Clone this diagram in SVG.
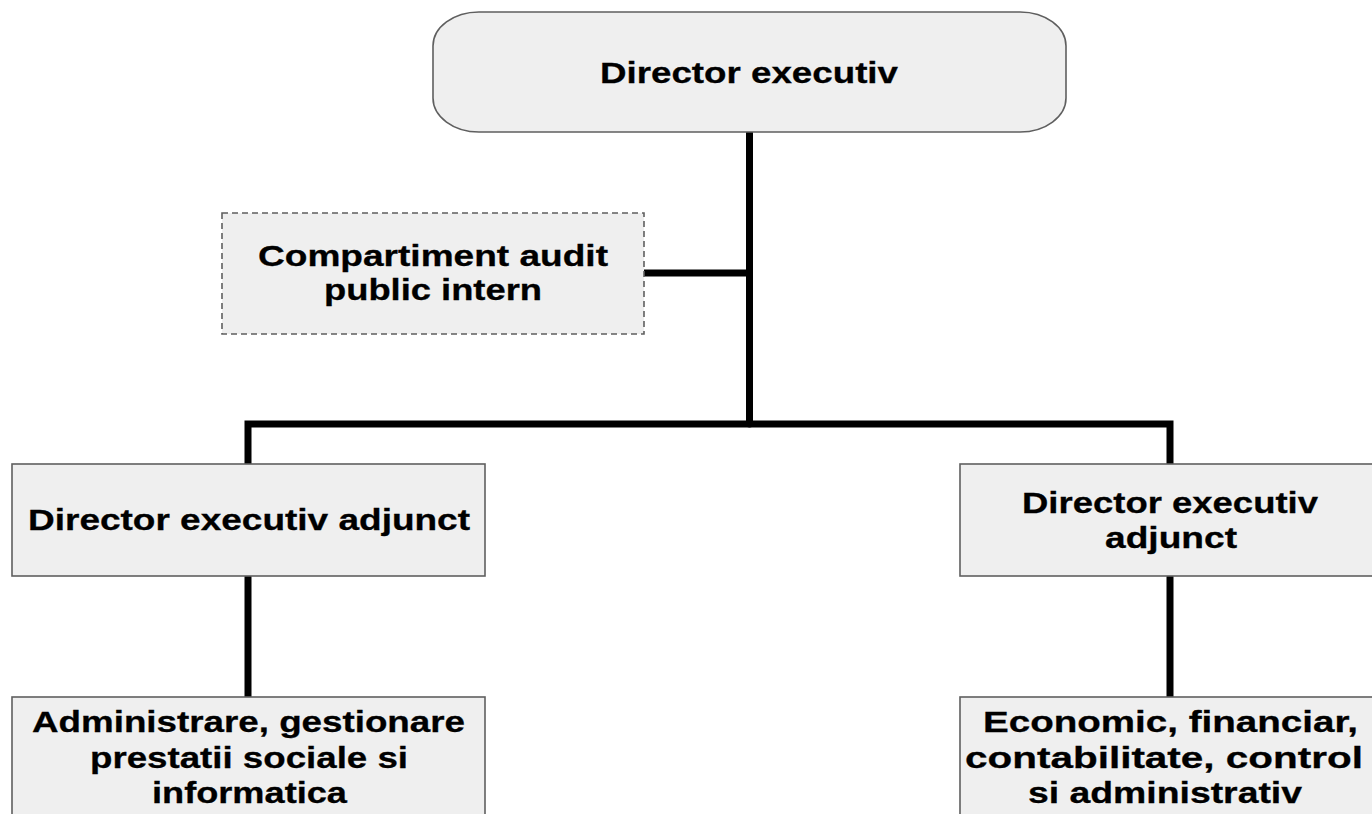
<svg xmlns="http://www.w3.org/2000/svg" width="1372" height="814" viewBox="0 0 1372 814">
<style>
.box{fill:#efefef;stroke:#5f5f5f;stroke-width:1.6}
.dash{fill:#efefef;stroke:#5f5f5f;stroke-width:1.6;stroke-dasharray:6 4}
.t{font-family:"Liberation Sans",Arial,sans-serif;font-weight:bold;font-size:30px;fill:#000;stroke:#000;stroke-width:0.3;text-anchor:middle}
.c{fill:none;stroke:#000;stroke-width:7;stroke-linecap:round;stroke-linejoin:miter}
</style>
<rect width="1372" height="814" fill="#fff"/>
<g id="connectors">
<path class="c" d="M749.5 133 V424"/>
<path class="c" d="M643 273 H749.5"/>
<path class="c" d="M248 464 V424 H1170 V464"/>
<path class="c" d="M248 577 V697"/>
<path class="c" d="M1170 577 V697"/>
</g>
<g id="director">
<rect class="box" x="433" y="12" width="633" height="120" rx="46" ry="34"/>
<text class="t" x="749" y="83" textLength="298" lengthAdjust="spacingAndGlyphs">Director executiv</text>
</g>
<g id="audit">
<rect class="dash" x="222" y="213" width="422" height="121"/>
<text class="t" x="433" y="266" textLength="350" lengthAdjust="spacingAndGlyphs">Compartiment audit</text>
<text class="t" x="433" y="300" textLength="218" lengthAdjust="spacingAndGlyphs">public intern</text>
</g>
<g id="adjunct-left">
<rect class="box" x="12" y="464" width="473" height="112"/>
<text class="t" x="249" y="530" textLength="442" lengthAdjust="spacingAndGlyphs">Director executiv adjunct</text>
</g>
<g id="adjunct-right">
<rect class="box" x="960" y="464" width="420" height="112"/>
<text class="t" x="1170" y="513" textLength="296" lengthAdjust="spacingAndGlyphs">Director executiv</text>
<text class="t" x="1171" y="548" textLength="132" lengthAdjust="spacingAndGlyphs">adjunct</text>
</g>
<g id="administrare">
<rect class="box" x="12" y="697" width="473" height="130"/>
<text class="t" x="248.5" y="732" textLength="433" lengthAdjust="spacingAndGlyphs">Administrare, gestionare</text>
<text class="t" x="249" y="768" textLength="318" lengthAdjust="spacingAndGlyphs">prestatii sociale si</text>
<text class="t" x="249.5" y="803" textLength="195" lengthAdjust="spacingAndGlyphs">informatica</text>
</g>
<g id="economic">
<rect class="box" x="960" y="697" width="420" height="130"/>
<text class="t" x="1170.5" y="732" textLength="375" lengthAdjust="spacingAndGlyphs">Economic, financiar,</text>
<text class="t" x="1164" y="768" textLength="398" lengthAdjust="spacingAndGlyphs">contabilitate, control</text>
<text class="t" x="1165" y="803" textLength="274" lengthAdjust="spacingAndGlyphs">si administrativ</text>
</g>
</svg>
